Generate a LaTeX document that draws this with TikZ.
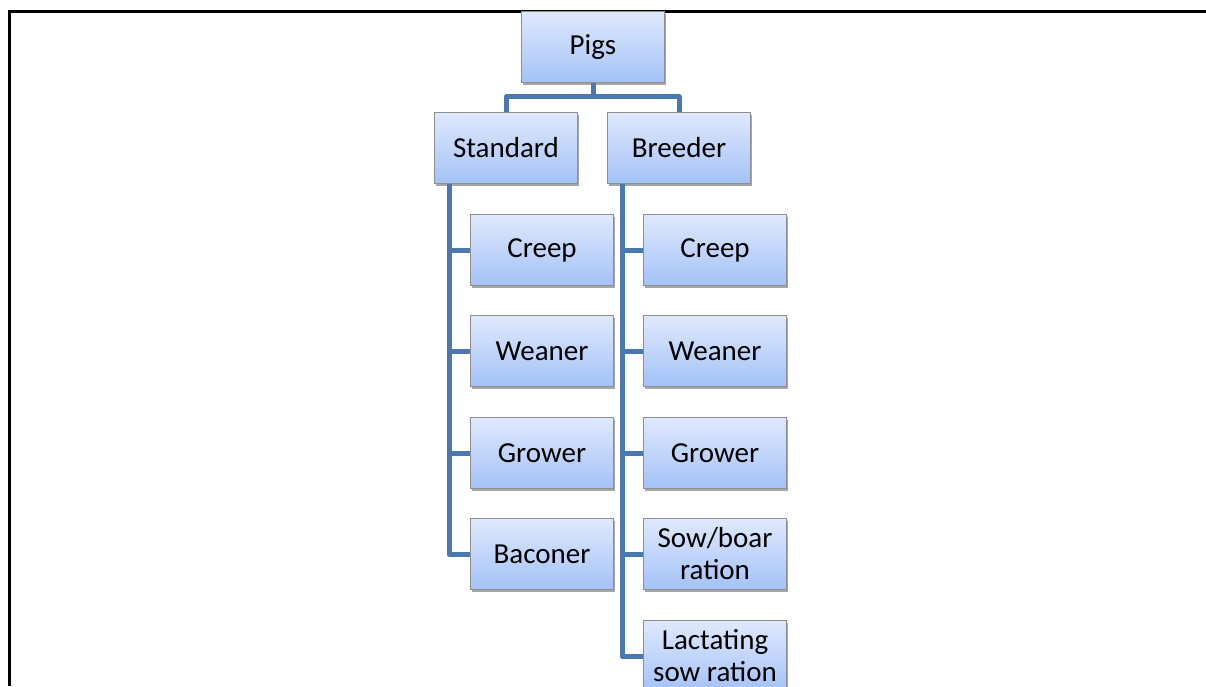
\documentclass[tikz,border=0pt]{standalone}
\usepackage{fontspec}
\setmainfont{Carlito}
\usetikzlibrary{shadows}
\definecolor{linkblue}{HTML}{4A78AF}
\definecolor{boxtop}{HTML}{DFE9FD}
\definecolor{boxbot}{HTML}{A4C2F7}
\definecolor{boxedge}{HTML}{8E8E8E}
\begin{document}
\begin{tikzpicture}[x=1pt,y=-1pt,
  box/.style={rectangle, draw=boxedge, line width=0.8pt,
    top color=boxtop, bottom color=boxbot,
    minimum width=143pt, minimum height=71pt, inner sep=2pt,
    align=center, font=\fontsize{29}{32}\selectfont,
    drop shadow={shadow xshift=1.5pt, shadow yshift=-2pt, opacity=0.35, fill=black}},
  link/.style={draw=linkblue, line width=5pt, line join=round}]
\useasboundingbox (0,0) rectangle (1206,686);
\fill[white] (0,0) rectangle (1206,686);
% page frame (top and left rules)
\draw[line width=3pt] (1206,11) -- (9,11) -- (9,686);

% top level
\node[box] (pigs) at (593,47) {Pigs};
\node[box] (std) at (506,148) {Standard};
\node[box] (brd) at (679,148) {Breeder};

% standard feeds
\node[box] (s1) at (542,250) {Creep};
\node[box] (s2) at (542,351) {Weaner};
\node[box] (s3) at (542,453) {Grower};
\node[box] (s4) at (542,554) {Baconer};

% breeder feeds
\node[box] (b1) at (715,250) {Creep};
\node[box] (b2) at (715,351) {Weaner};
\node[box] (b3) at (715,453) {Grower};
\node[box] (b4) at (715,554) {Sow/boar\\ration};
\node[box] (b5) at (715,656) {Lactating\\sow ration};

% connectors
\draw[link] (pigs.south) -- ++(0,14) -| (std.north);
\draw[link] (pigs.south) -- ++(0,14) -| (brd.north);
\foreach \c in {s1,s2,s3,s4}
  \draw[link] ([xshift=15pt]std.south west) |- (\c.west);
\foreach \c in {b1,b2,b3,b4,b5}
  \draw[link] ([xshift=15pt]brd.south west) |- (\c.west);
\end{tikzpicture}
\end{document}
